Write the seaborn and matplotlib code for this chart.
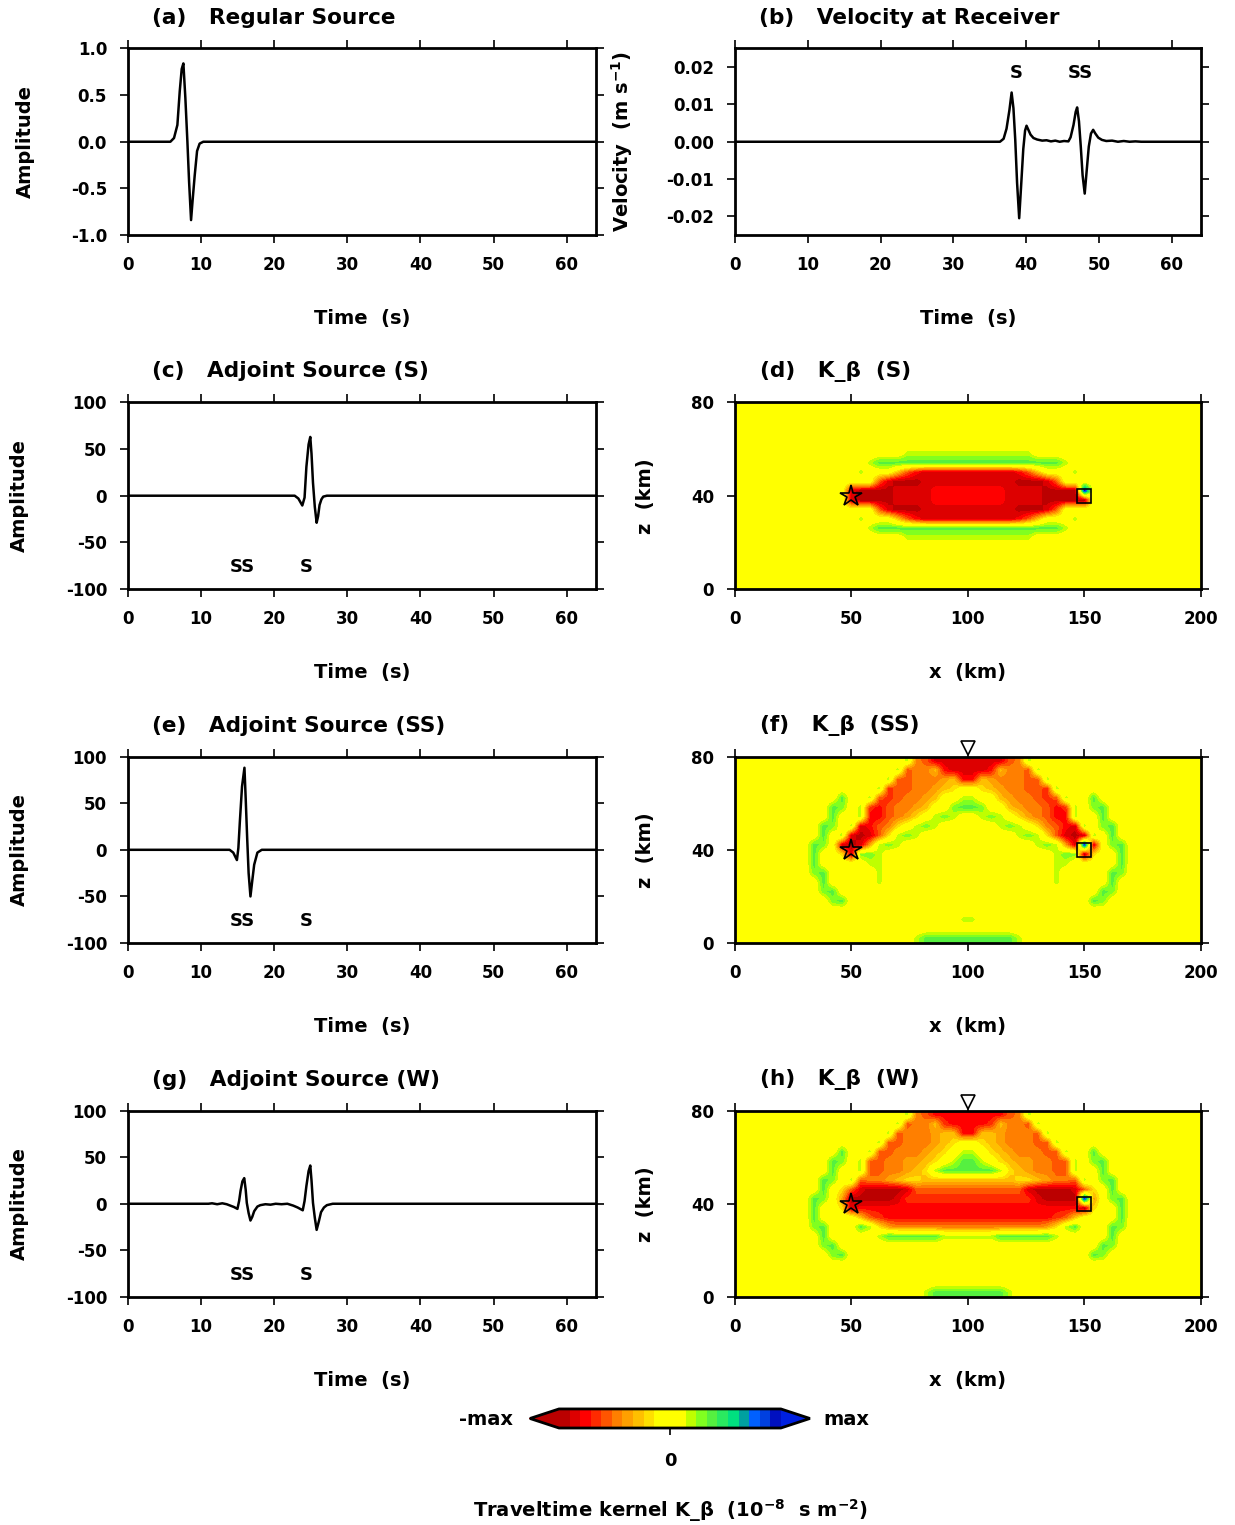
import numpy as np
import matplotlib
matplotlib.use("Agg")
import matplotlib.pyplot as plt
from matplotlib.colors import ListedColormap, BoundaryNorm
from matplotlib.cm import ScalarMappable
from matplotlib.ticker import FormatStrFormatter
import seaborn as sns

# ---------------- waveforms ----------------
t_src = [0, 5.8, 6.3, 6.76, 7.08, 7.35, 7.58, 7.85, 8.13, 8.36, 8.63, 8.85, 9.13, 9.45, 9.8, 10.3, 64]
amp_src = [0, 0, 0.04, 0.18, 0.54, 0.78, 0.84, 0.47, 0.0, -0.43, -0.84, -0.62, -0.36, -0.10, -0.02, 0, 0]

t_vel = [0, 36.4, 36.9, 37.3, 37.7, 38.0, 38.25, 38.5, 38.75, 39.04, 39.3, 39.6, 39.85, 40.05, 40.3,
         40.6, 41.0, 41.5, 42.2, 42.8, 43.4, 44.0, 44.6, 45.2, 45.8, 46.1, 46.5, 46.8, 47.0, 47.25,
         47.5, 47.75, 48.04, 48.3, 48.6, 48.9, 49.2, 49.5, 49.9, 50.4, 51.0, 51.8, 52.6, 53.4, 54.2,
         55.0, 55.8, 64]
vel = [0, 0, 0.0008, 0.0035, 0.0085, 0.0132, 0.009, 0.0005, -0.011, -0.0205, -0.012, -0.002, 0.0030,
       0.0043, 0.0032, 0.0019, 0.0010, 0.0006, 0.0003, 0.0004, 0.0001, 0.0003, 0.0, 0.0002, 0.0001,
       0.0012, 0.0045, 0.0080, 0.0092, 0.0055, -0.0013, -0.009, -0.0139, -0.008, -0.0013, 0.0022,
       0.0032, 0.0022, 0.0011, 0.0005, 0.0002, 0.0003, 0.0, 0.0002, 0.0, 0.0001, 0.0, 0]

t_adj_s = [0, 22.8, 23.3, 23.84, 24.15, 24.4, 24.7, 24.93, 25.1, 25.3, 25.55, 25.8, 26.0, 26.2, 26.45, 26.7, 27.2, 64]
adj_s = [0, 0, -3, -10.5, -2, 31, 55, 63, 45, 14, -12, -29, -22, -10, -4, -1, 0, 0]

t_adj_ss = [0, 13.9, 14.4, 14.9, 15.1, 15.3, 15.6, 15.93, 16.1, 16.3, 16.5, 16.75, 17.0, 17.26, 17.7, 18.3, 64]
adj_ss = [0, 0, -3, -11, 2, 30, 68, 88, 55, 13, -25, -50, -33, -16, -3, 0, 0]

t_adj_w = [0, 11.0, 11.5, 12.2, 12.9, 13.5, 14.0, 14.5, 14.97, 15.2, 15.4, 15.65, 15.9, 16.1, 16.25,
           16.5, 16.75, 17.0, 17.26, 17.7, 18.1, 18.8, 19.5, 20.2, 21.0, 21.8, 22.6, 23.2, 23.9, 24.15,
           24.4, 24.7, 24.93, 25.1, 25.3, 25.55, 25.8, 26.1, 26.4, 26.8, 27.2, 28.0, 64]
adj_w = [0, 0, 0.5, -0.5, 0.5, -0.5, -2, -3.5, -5.5, 3, 14, 24, 27.5, 15, 1, -10, -18, -14, -8, -3,
         -1.5, -0.5, -1, 0, -0.5, 0, -2, -4, -7, 3, 19, 35, 41, 25, 1, -15, -28, -19, -9, -4, -1.5, 0, 0]

# phase labels
vel_phase_t = [38.6, 47.5]
vel_phase_lbl = ["S", "SS"]
adj_phase_t = [15.6, 24.4]
adj_phase_lbl = ["SS", "S"]

# ---------------- kernel maps ----------------
# 4 km cells, 50 columns (x = 2..198 km), rows from z = 78 km down to z = 2 km.
# one character per cell, each one a colour bin of the palette
level_of = {".": 0.0, "g": 0.19, "h": 0.30, "G": 0.38, "B": 0.95,
            "w": -0.19, "y": -0.29, "n": -0.38, "o": -0.48, "O": -0.57,
            "q": -0.67, "r": -0.76, "R": -0.86, "D": -0.95}

kernel_s_rows = [
    "." * 50,
    "." * 50,
    "." * 50,
    "." * 50,
    "." * 50,
    "." * 18 + "g" * 14 + "." * 18,
    "." * 14 + "g" + "G" * 20 + "g" + "." * 14,
    "." * 13 + "g..." + "yOr" + "R" * 10 + "rOy" + "...g" + "." * 13,
    "." * 15 + "OR" + "D" * 3 + "R" * 10 + "D" * 3 + "RO" + "." * 15,
    "." * 12 + "R" + "D" * 4 + "R" * 4 + "r" * 8 + "R" * 4 + "D" * 4 + "B" + "." * 12,
    "." * 12 + "R" + "D" * 4 + "R" * 4 + "r" * 8 + "R" * 4 + "D" * 4 + "D" + "." * 12,
    "." * 15 + "OR" + "D" * 3 + "R" * 10 + "D" * 3 + "RO" + "." * 15,
    "." * 13 + "g..." + "yOr" + "R" * 10 + "rOy" + "...g" + "." * 13,
    "." * 14 + "g" + "G" * 20 + "g" + "." * 14,
    "." * 18 + "g" * 14 + "." * 18,
    "." * 50,
    "." * 50,
    "." * 50,
    "." * 50,
    "." * 50,
]

kernel_ss_rows = [
    "." * 18 + "goO" + "R" * 8 + "Oog" + "." * 18,
    "." * 17 + "gOooyr" + "R" * 4 + "ryooOg" + "." * 17,
    "." * 16 + "gOOooonyrrynoooOOg" + "." * 16,
    "." * 15 + "gqOOoonyw..wynooOOqg" + "." * 15,
    "." * 11 + "G..gOqOoony..gg..ynooOqOg..G" + "." * 11,
    "." * 10 + "Gh.gqrOoony..hGGh..ynooOrqg.hG" + "." * 10,
    "." * 10 + "G..grrOonw.ghg..ghg.wnoOrrg..G" + "." * 10,
    "." * 9 + "Gh.gRrOow.ghg" + "." * 6 + "ghg.woOrRg.hG" + "." * 9,
    "." * 9 + "G.gRDROwghg" + "." * 10 + "ghgwORDRg.G" + "." * 9,
    "." * 8 + "Gh.RDRnghg" + "." * 14 + "ghgnRBR.hG" + "." * 8,
    "." * 8 + "G..wRhhg" + "." * 18 + "ghhDw..G" + "." * 8,
    "." * 8 + "G" + "." * 5 + "gg" + "." * 18 + "gg" + "." * 5 + "G" + "." * 8,
    "." * 8 + "hG" + "." * 5 + "g" + "." * 18 + "g" + "." * 5 + "Gh" + "." * 8,
    "." * 9 + "G" + "." * 5 + "g" + "." * 18 + "g" + "." * 5 + "G" + "." * 9,
    "." * 9 + "hG" + "." * 28 + "Gh" + "." * 9,
    "." * 10 + "hG" + "." * 26 + "Gh" + "." * 10,
    "." * 50,
    "." * 24 + "gg" + "." * 24,
    "." * 50,
    "." * 19 + "g" + "G" * 10 + "g" + "." * 19,
]

kernel_w_rows = [
    "." * 18 + "goO" + "r" * 8 + "Oog" + "." * 18,
    "." * 17 + "gOooyq" + "r" * 4 + "qyooOg" + "." * 17,
    "." * 16 + "gOooonyyrryynoooOg" + "." * 16,
    "." * 15 + "gOOooonyw..wynoooOOg" + "." * 15,
    "." * 11 + "G..gOOooonyw.gg.wynoooOOg..G" + "." * 11,
    "." * 10 + "Gh.gOOoonnyw.gGGg.wynnooOOg.hG" + "." * 10,
    "." * 10 + "G..gOOoonywg" + "G" * 6 + "gwynooOOg..G" + "." * 10,
    "." * 9 + "Gh.gOoonyww" + "y" * 10 + "wwynooOg.hG" + "." * 9,
    "." * 9 + "G.wORDDDDR" + "O" * 12 + "RDDDDROw.G" + "." * 9,
    "." * 8 + "Gh.nDDDDDRq" + "q" * 12 + "qRDDDDBn.hG" + "." * 8,
    "." * 8 + "G..wR" + "r" * 24 + "Dw..G" + "." * 8,
    "." * 8 + "G....yOq" + "r" * 18 + "qOy....G" + "." * 8,
    "." * 8 + "hG...Ggwn" + "o" * 16 + "nwgG...Gh" + "." * 8,
    "." * 9 + "G....." + "g" + "G" * 6 + "g" * 6 + "G" * 6 + "g" + "....." + "G" + "." * 9,
    "." * 9 + "hG" + "." * 28 + "Gh" + "." * 9,
    "." * 10 + "hG" + "." * 26 + "Gh" + "." * 10,
    "." * 50,
    "." * 50,
    "." * 50,
    "." * 20 + "g" + "G" * 8 + "g" + "." * 20,
]

# 21-bin palette, -max (red) to +max (blue)
kernel_colors = ["#bb0000", "#dd0000", "#ff0000", "#ff2a00", "#ff5500", "#ff7f00", "#ffa000",
                 "#ffbf00", "#ffdf00", "#ffff00", "#ffff00", "#ffff00", "#bfff00", "#80ff20",
                 "#55f040", "#2aea60", "#00e080", "#00a0a0", "#0060ff", "#0040e0", "#0010c0"]

# ---------------- style ----------------
sns.set_theme(style="ticks", rc={"axes.edgecolor": "black", "xtick.color": "black",
                                 "ytick.color": "black", "text.color": "black",
                                 "axes.labelcolor": "black"})
plt.rcParams["font.family"] = ["DejaVu Sans"]
plt.rcParams["font.weight"] = "bold"
plt.rcParams["axes.labelweight"] = "bold"
plt.rcParams["mathtext.fontset"] = "dejavusans"
plt.rcParams["mathtext.default"] = "bf"
plt.rcParams["axes.unicode_minus"] = False

cmap = ListedColormap(kernel_colors).with_extremes(under="#bb0000", over="#0020e0")
norm = BoundaryNorm(np.linspace(-1, 1, 22), cmap.N)

fig = plt.figure(figsize=(12.35, 15.25), dpi=100)
L, WL = 0.1036, 0.3790
R, WR = 0.5951, 0.3773
H = 0.1223
bottoms = [0.8459, 0.6138, 0.3816, 0.1495]


def frame(ax):
    for sp in ax.spines.values():
        sp.set_visible(True)
        sp.set_linewidth(2)
    ax.tick_params(direction="out", length=6, width=1.2, top=True, right=True,
                   labelsize=12, pad=9)


def title(ax, txt, x):
    ax.text(x, 1.166, txt, transform=ax.transAxes, fontsize=15.6, fontweight="bold",
            ha="left", va="center")


def trace(ax, t, y, ttl, ylabel, ylab_x):
    sns.lineplot(x=t, y=y, ax=ax, color="black", linewidth=1.8, sort=False, estimator=None)
    ax.set_xlim(0, 64)
    ax.set_xticks([0, 10, 20, 30, 40, 50, 60])
    frame(ax)
    ax.set_xlabel("Time  (s)", fontsize=14, va="center")
    ax.xaxis.set_label_coords(0.5, -0.45)
    ax.set_ylabel(ylabel, fontsize=14, va="center")
    ax.yaxis.set_label_coords(ylab_x, 0.5)
    title(ax, ttl, 0.051)


def kernel(ax, rows, ttl, with_top=False):
    grid = np.array([[level_of[c] for c in r.ljust(50, ".")[:50]] for r in rows])
    ax.imshow(grid, cmap=cmap, norm=norm, extent=[0, 200, 0, 80], origin="upper",
              interpolation="bilinear", interpolation_stage="data", aspect="auto")
    ax.plot(50, 40, marker="*", ms=16, mfc="none", mec="black", mew=1.2)
    ax.plot(150, 40, marker="s", ms=10, mfc="none", mec="black", mew=1.2)
    if with_top:
        ax.plot(100, 83.5, marker="v", ms=10, mfc="white", mec="black", mew=1.2, clip_on=False)
    ax.set_xlim(0, 200)
    ax.set_ylim(0, 80)
    ax.set_xticks([0, 50, 100, 150, 200])
    ax.set_yticks([0, 40, 80])
    frame(ax)
    ax.set_xlabel("x  (km)", fontsize=14, va="center")
    ax.xaxis.set_label_coords(0.5, -0.45)
    ax.set_ylabel("z  (km)", fontsize=14, va="center")
    ax.yaxis.set_label_coords(-0.193, 0.5)
    title(ax, ttl, 0.054)


# (a)
ax_a = fig.add_axes([L, bottoms[0], WL, H])
trace(ax_a, t_src, amp_src, "(a)   Regular Source", "Amplitude", -0.22)
ax_a.set_ylim(-1, 1)
ax_a.set_yticks([-1.0, -0.5, 0.0, 0.5, 1.0])
ax_a.yaxis.set_major_formatter(FormatStrFormatter("%.1f"))

# (b)
ax_b = fig.add_axes([R, bottoms[0], WR, H])
trace(ax_b, t_vel, vel, "(b)   Velocity at Receiver", "Velocity  (m s$^{-1}$)", -0.2425)
ax_b.set_ylim(-0.025, 0.025)
ax_b.set_yticks([-0.02, -0.01, 0.0, 0.01, 0.02])
ax_b.yaxis.set_major_formatter(FormatStrFormatter("%.2f"))
for tt, lb in zip(vel_phase_t, vel_phase_lbl):
    ax_b.text(tt, 0.0184, lb, ha="center", va="center", fontsize=13, fontweight="bold")

# (c), (e), (g)
adj_sets = [
    (t_adj_s, adj_s, "(c)   Adjoint Source (S)"),
    (t_adj_ss, adj_ss, "(e)   Adjoint Source (SS)"),
    (t_adj_w, adj_w, "(g)   Adjoint Source (W)"),
]
for k, (t, y, ttl) in enumerate(adj_sets):
    ax = fig.add_axes([L, bottoms[k + 1], WL, H])
    trace(ax, t, y, ttl, "Amplitude", -0.231)
    ax.set_ylim(-100, 100)
    ax.set_yticks([-100, -50, 0, 50, 100])
    for tt, lb in zip(adj_phase_t, adj_phase_lbl):
        ax.text(tt, -76, lb, ha="center", va="center", fontsize=13, fontweight="bold")

# (d), (f), (h)
kernel(fig.add_axes([R, bottoms[1], WR, H]), kernel_s_rows, "(d)   K_β  (S)")
kernel(fig.add_axes([R, bottoms[2], WR, H]), kernel_ss_rows, "(f)   K_β  (SS)", with_top=True)
kernel(fig.add_axes([R, bottoms[3], WR, H]), kernel_w_rows, "(h)   K_β  (W)", with_top=True)

# colour scale (box includes the end triangles)
cax = fig.add_axes([0.4291, 0.0636, 0.2267, 0.0125])
cb = fig.colorbar(ScalarMappable(norm=norm, cmap=cmap), cax=cax, orientation="horizontal",
                  extend="both", extendfrac=0.131, ticks=[0])
cb.minorticks_off()
cb.outline.set_linewidth(2)
cb.ax.tick_params(length=5, width=1.2, pad=12, labelsize=13)
cb.ax.set_xticklabels(["0"])
fig.text(0.4154, 0.0689, "-max", ha="right", va="center", fontsize=14, fontweight="bold")
fig.text(0.6664, 0.0689, "max", ha="left", va="center", fontsize=14, fontweight="bold")
fig.text(0.5425, 0.0092, "Traveltime kernel K_β  (10$^{-8}$  s m$^{-2}$)", ha="center",
         va="center", fontsize=14, fontweight="bold")

fig.savefig("out.png", dpi=100)
